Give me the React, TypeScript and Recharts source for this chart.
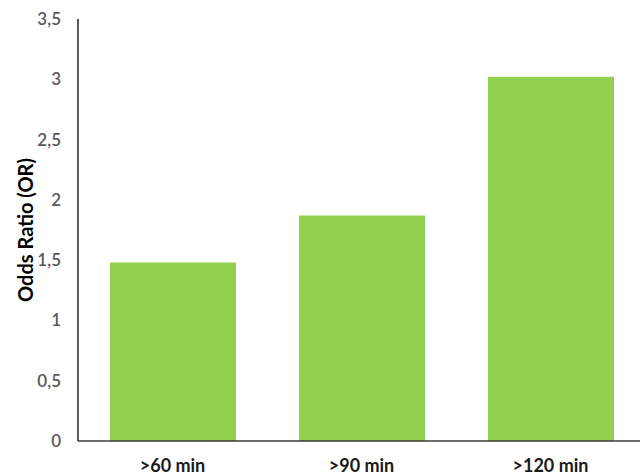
import React from 'react';
import { BarChart, Bar, XAxis, YAxis, Label } from 'recharts';

const categories = ['>60 min', '>90 min', '>120 min'];
const oddsRatios = [1.48, 1.87, 3.02];
const yTicks = [0, 0.5, 1, 1.5, 2, 2.5, 3, 3.5];

const chartData = categories.map((name, i) => ({ name, or: oddsRatios[i] }));

const FONT = 'Lato, "Open Sans", sans-serif';

const formatComma = (v: number) => String(v).replace('.', ',');

function YTick(props: any) {
  const { x, y, payload } = props;
  return (
    <text
      x={x - 17}
      y={y}
      dy="0.35em"
      textAnchor="end"
      fill="#595959"
      fontFamily={FONT}
      fontSize={17}
      fontWeight={600}
    >
      {formatComma(payload.value)}
    </text>
  );
}

function XTick(props: any) {
  const { x, y, payload } = props;
  return (
    <text
      x={x}
      y={y + 25}
      dy="0.35em"
      textAnchor="middle"
      fill="#1a1a1a"
      fontFamily={FONT}
      fontSize={18}
      fontWeight={700}
    >
      {payload.value}
    </text>
  );
}

export default function App() {
  return (
    <div
      style={{
        position: 'absolute',
        left: 0,
        top: 0,
        width: 640,
        height: 476,
        overflow: 'hidden',
        background: '#fff',
      }}
    >
      <BarChart
        width={645}
        height={476}
        data={chartData}
        margin={{ top: 19, right: 0, bottom: 0, left: 0 }}
        barSize={126}
      >
        <XAxis
          dataKey="name"
          height={35}
          axisLine={{ stroke: '#3a3a3a', strokeWidth: 1.5 }}
          tickLine={false}
          tickSize={0}
          tickMargin={0}
          tick={<XTick />}
          interval={0}
        />
        <YAxis
          width={78}
          domain={[0, 3.5]}
          ticks={yTicks}
          axisLine={{ stroke: '#262626', strokeWidth: 1.5 }}
          tickLine={false}
          tickSize={0}
          tickMargin={0}
          tick={<YTick />}
          interval={0}
        >
          <Label
            value="Odds Ratio (OR)"
            angle={-90}
            position="insideLeft"
            offset={26}
            style={{ fontFamily: FONT, fontSize: 20, fontWeight: 700, fill: '#000', textAnchor: 'middle' }}
          />
        </YAxis>
        <Bar dataKey="or" fill="#92D050" isAnimationActive={false} />
      </BarChart>
    </div>
  );
}
